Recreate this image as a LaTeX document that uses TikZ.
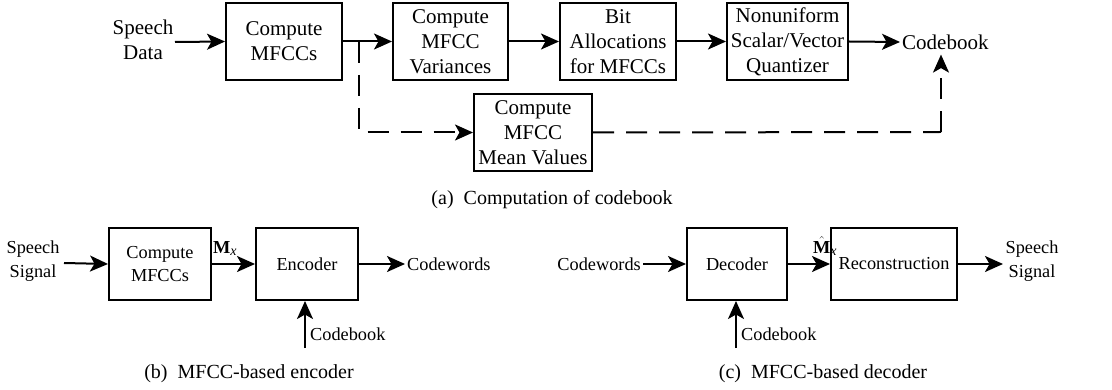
\documentclass[tikz,border=0pt]{standalone}
\usepackage{fontspec}
\setmainfont{Liberation Serif}
\usetikzlibrary{arrows.meta}
\begin{document}
\begin{tikzpicture}[x=1pt,y=-1pt,
  every node/.style={inner sep=0pt},
  tfont/.style={font=\fontsize{21}{25}\selectfont},
  bfont/.style={font=\fontsize{18.3}{23.5}\selectfont},
  blk/.style={draw, line width=2pt, align=center},
  topblk/.style={blk, tfont, minimum height=77pt},
  botblk/.style={blk, bfont, minimum height=72pt},
  arr/.style={line width=2pt, -{Stealth[length=18pt,width=16pt,inset=4.5pt]}},
  darr/.style={arr, dash pattern=on 21pt off 12pt},
  dln/.style={line width=2pt, dash pattern=on 21pt off 12pt},
  captxt/.style={font=\fontsize{20}{24}\selectfont}
]
\useasboundingbox (0,0) rectangle (1112,390);

% ---- (a) ----
\node[tfont, align=center] (sd) at (143,40) {Speech\\Data};
\node[topblk, minimum width=116pt] (mf) at (284,41.5) {Compute\\MFCCs};
\node[topblk, minimum width=115pt] (var) at (450.5,41.5) {Compute\\MFCC\\Variances};
\node[topblk, minimum width=116pt] (bit) at (618,41.5) {Bit\\Allocations\\for MFCCs};
\node[topblk, minimum width=121pt] (nq) at (787.5,41.5) {Nonuniform\\Scalar/Vector\\Quantizer};
\node[tfont, anchor=west, inner sep=2pt] (cb) at (900,42) {Codebook};
\node[topblk, minimum width=118pt] (mean) at (533,132.5) {Compute\\MFCC\\Mean Values};
\coordinate (sdo) at (175,42);
\coordinate (br) at (359,42);
\coordinate (cbx) at (941,132);

\draw[arr] (sdo) -- (mf.west);
\draw[arr] (mf.east) -- (var.west);
\draw[arr] (var.east) -- (bit.west);
\draw[arr] (bit.east) -- (nq.west);
\draw[arr] (nq.east) -- (cb.west);
\draw[darr] (br) -- (br |- mean.west) -- (mean.west);
\draw[dln] (mean.east) -- (cbx);
\draw[darr] (cbx) -- ([yshift=-3pt]cbx |- cb.south);
\node[captxt] (capa) at (552,200) {(a)~~Computation of codebook};

% ---- (b) ----
\node[bfont, align=center] (ss) at (33,261) {Speech\\Signal};
\node[botblk, minimum width=102pt] (mf2) at (160,264) {Compute\\MFCCs};
\node[botblk, minimum width=102pt] (enc) at (307,264) {Encoder};
\node[bfont, anchor=west, inner sep=2pt] (cw) at (405,264) {Codewords};
\coordinate (sso) at (64,263);
\coordinate (cbe) at (305,348);
\node[bfont, anchor=west] (cbel) at (310,334) {Codebook};
\draw[arr] (sso) -- (mf2.west);
\draw[arr] (mf2.east) -- (enc.west);
\node[bfont, anchor=south west] (mx) at (213,256) {$\mbox{\textbf{M}}_{\mbox{\textit{\fontsize{14}{14}\selectfont x}}}$};
\draw[arr] (enc.east) -- (cw.west);
\draw[arr] (cbe) -- (cbe |- enc.south);
\node[captxt] (capb) at (249,374) {(b)~~MFCC-based encoder};

% ---- (c) ----
\node[bfont, anchor=east, inner sep=2pt] (cw2) at (643,264) {Codewords};
\node[botblk, minimum width=100pt] (dec) at (737,264) {Decoder};
\node[botblk, minimum width=126pt] (rec) at (894,264) {Reconstruction};
\node[bfont, align=center] (ss2) at (1032,261) {Speech\\Signal};
\coordinate (cbd) at (736,348);
\coordinate (rso) at (1003,264);
\node[bfont, anchor=west] (cbdl) at (741,334) {Codebook};
\draw[arr] (cw2.east) -- (dec.west);
\draw[arr] (dec.east) -- (rec.west);
\node[bfont, anchor=south west] (mxh) at (813,256) {$\hat{\mbox{\textbf{M}}}_{\mbox{\textit{\fontsize{14}{14}\selectfont x}}}$};
\draw[arr] (rec.east) -- (rso);
\draw[arr] (cbd) -- (cbd |- dec.south);
\node[captxt] (capc) at (823,374) {(c)~~MFCC-based decoder};
\end{tikzpicture}
\end{document}
